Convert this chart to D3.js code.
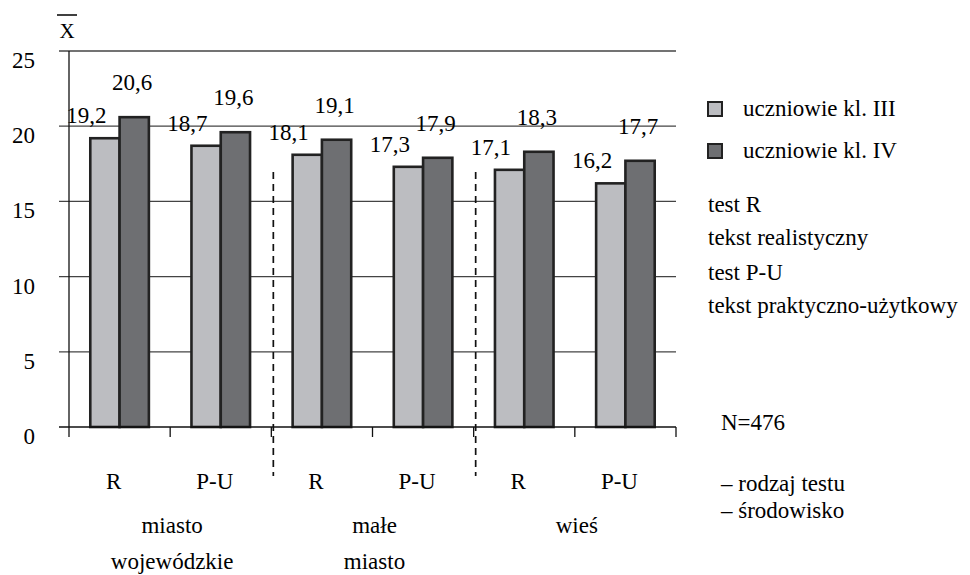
<!DOCTYPE html>
<html>
<head>
<meta charset="utf-8">
<style>
  body { margin: 0; background: #fff; }
</style>
</head>
<body>
<script src="https://cdn.jsdelivr.net/npm/d3@7"></script>
<script>
// chart data
var tests = ["R", "P-U", "R", "P-U", "R", "P-U"];
var environments = [["miasto", "wojewódzkie"], ["małe", "miasto"], ["wieś"]];
var klIII = [19.2, 18.7, 18.1, 17.3, 17.1, 16.2];
var klIV = [20.6, 19.6, 19.1, 17.9, 18.3, 17.7];
var seriesNames = ["uczniowie kl. III", "uczniowie kl. IV"];
var yTicks = [0, 5, 10, 15, 20, 25];
var notes = ["test R", "tekst realistyczny", "test P-U", "tekst praktyczno-użytkowy"];
var footer = ["N=476", "– rodzaj testu", "– środowisko"];

var w = 970, h = 575;
var colors = ["#bcbdc1", "#6e6f72"];
var fs = "23px";

var svg = d3.select("body").append("svg")
    .attr("width", w)
    .attr("height", h)
    .attr("font-family", "'Liberation Serif', 'Times New Roman', 'Liberation Sans', sans-serif")
    .style("display", "block");

var x = d3.scaleBand().domain(d3.range(tests.length)).range([69, 676]);
var xs = d3.scaleBand().domain([0, 1]).range([0, x.bandwidth()]).paddingOuter(0.727);
var y = d3.scaleLinear().domain([0, 25]).range([427, 51]);

var fmt = function(v) { return d3.format(".1f")(v).replace(".", ","); };

// gridlines + y labels
svg.append("g").selectAll("line")
    .data(yTicks.filter(function(d) { return d > 0; }))
  .enter().append("line")
    .attr("x1", 59).attr("x2", 676)
    .attr("y1", y).attr("y2", y)
    .style("stroke", "#444").style("stroke-width", 1.3);

svg.append("g").selectAll("text")
    .data(yTicks)
  .enter().append("text")
    .attr("x", 35)
    .attr("y", function(d) { return y(d) + 17; })
    .attr("text-anchor", "end")
    .style("font-size", fs)
    .text(function(d) { return d; });

// x-bar symbol
svg.append("text").attr("x", 67).attr("y", 38).attr("text-anchor", "middle")
    .style("font-size", "21px").text("X");
svg.append("line").attr("x1", 57).attr("x2", 77).attr("y1", 15).attr("y2", 15)
    .style("stroke", "#111").style("stroke-width", 1.6);

// group separators
svg.append("g").selectAll("line")
    .data([2, 4])
  .enter().append("line")
    .attr("x1", function(d) { return x(d) + 2; })
    .attr("x2", function(d) { return x(d) + 2; })
    .attr("y1", 172).attr("y2", 476)
    .style("stroke", "#111").style("stroke-width", 1.7)
    .style("stroke-dasharray", "7,5");

// bars
var groups = svg.append("g").selectAll("g")
    .data(tests)
  .enter().append("g")
    .attr("transform", function(d, i) { return "translate(" + x(i) + ",0)"; });

groups.selectAll("rect")
    .data(function(d, i) { return [klIII[i], klIV[i]]; })
  .enter().append("rect")
    .attr("x", function(d, j) { return xs(j); })
    .attr("y", function(d) { return y(d); })
    .attr("width", xs.bandwidth())
    .attr("height", function(d) { return y(0) - y(d); })
    .style("fill", function(d, j) { return colors[j]; })
    .style("stroke", "#222")
    .style("stroke-width", 2.6);

// value labels
groups.selectAll("text.val")
    .data(function(d, i) { return [klIII[i], klIV[i]]; })
  .enter().append("text")
    .attr("class", "val")
    .attr("x", function(d, j) { return j == 0 ? xs(0) - 4 : xs(1) + xs.bandwidth() / 2 - 2; })
    .attr("y", function(d, j) { return y(d) - (j == 0 ? 15 : 27); })
    .attr("text-anchor", "middle")
    .style("font-size", fs)
    .text(fmt);

// axes lines
svg.append("line").attr("x1", 69).attr("x2", 69).attr("y1", y(25)).attr("y2", 437)
    .style("stroke", "#111").style("stroke-width", 1.3);
svg.append("line").attr("x1", 59).attr("x2", 676).attr("y1", y(0)).attr("y2", y(0))
    .style("stroke", "#111").style("stroke-width", 1.3);
svg.append("g").selectAll("line")
    .data(d3.range(1, tests.length + 1))
  .enter().append("line")
    .attr("x1", function(d) { return x(0) + d * x.step(); })
    .attr("x2", function(d) { return x(0) + d * x.step(); })
    .attr("y1", y(0)).attr("y2", 437)
    .style("stroke", "#111").style("stroke-width", 1.3);

// test labels
svg.append("g").selectAll("text")
    .data(tests)
  .enter().append("text")
    .attr("x", function(d, i) { return x(i) + x.bandwidth() / 2 - 6; })
    .attr("y", 489)
    .attr("text-anchor", "middle")
    .style("font-size", fs)
    .text(function(d) { return d; });

// environment labels
var env = svg.append("g").selectAll("text")
    .data(environments)
  .enter().append("text")
    .attr("text-anchor", "middle")
    .style("font-size", fs);
env.selectAll("tspan")
    .data(function(d, i) { return d.map(function(t) { return {t: t, i: i}; }); })
  .enter().append("tspan")
    .attr("x", function(d) { return x(d.i * 2 + 1) + 2; })
    .attr("y", function(d, k) { return 533 + k * 36; })
    .text(function(d) { return d.t; });

// legend
var leg = svg.append("g").selectAll("g")
    .data(seriesNames)
  .enter().append("g")
    .attr("transform", function(d, i) { return "translate(708," + (102 + i * 42) + ")"; });
leg.append("rect")
    .attr("width", 14).attr("height", 14)
    .style("fill", function(d, i) { return colors[i]; })
    .style("stroke", "#222").style("stroke-width", 2);
leg.append("text")
    .attr("x", 35).attr("y", 14)
    .style("font-size", fs)
    .text(function(d) { return d; });

svg.append("g").selectAll("text")
    .data(notes)
  .enter().append("text")
    .attr("x", 708)
    .attr("y", function(d, i) { return [212, 245, 280, 313][i]; })
    .style("font-size", fs)
    .text(function(d) { return d; });

svg.append("g").selectAll("text")
    .data(footer)
  .enter().append("text")
    .attr("x", 721)
    .attr("y", function(d, i) { return [430, 491, 518][i]; })
    .style("font-size", fs)
    .text(function(d) { return d; });
</script>
</body>
</html>
